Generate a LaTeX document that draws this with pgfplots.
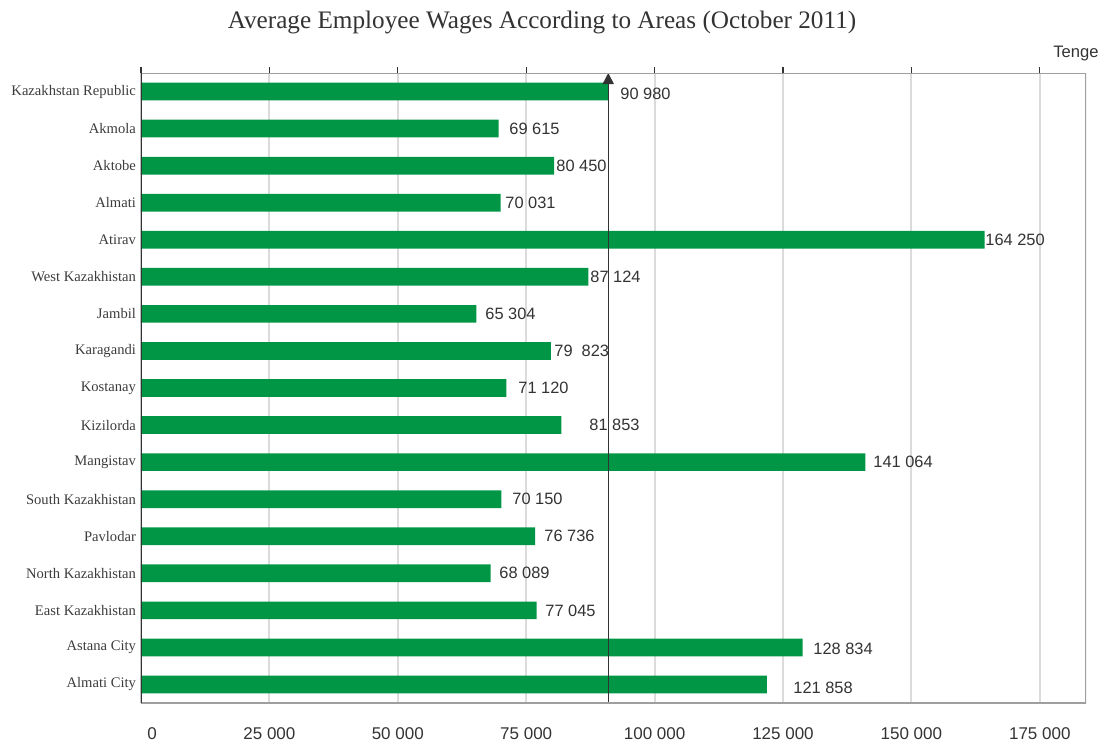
\documentclass[border=0pt]{standalone}
\usepackage{pgfplots}
\pgfplotsset{compat=1.18}
\usepackage{pgfplotstable}
\usepackage{fontspec}
\setmainfont{Liberation Serif}
\newfontfamily\arial{Liberation Sans}
\usetikzlibrary{arrows.meta}
\definecolor{bargreen}{RGB}{0,150,70}
\definecolor{txt}{RGB}{51,51,51}
\definecolor{cat}{RGB}{60,60,60}

\pgfplotstableread[col sep=comma]{
i,val
0,90980
1,69615
2,80450
3,70031
4,164250
5,87124
6,65304
7,79823
8,71120
9,81853
10,141064
11,70150
12,76736
13,68089
14,77045
15,128834
16,121858
}\wages

\pgfplotstableread[col sep=comma]{
lx,ly,lab
93266,0.05,90 980
71653,1,69 615
80805,2,80 450
70874,3,70 031
164335,4,164 250
87425,5,87 124
66980,6,65 304
80415,7,79\ \ 823
73406,8,71 120
87230,9,81 853
142528,10,141 064
72237,11,70 150
78468,12,76 736
69706,13,68 089
78663,14,77 045
130845,15.05,128 834
126951,16.1,121 858
}\labels

\begin{document}
\begin{tikzpicture}
\begin{axis}[
  at={(0,0)}, anchor=south west,
  scale only axis, width=472.5pt, height=315pt,
  xmin=0, xmax=184000, ymin=-0.5, ymax=16.5, y dir=reverse,
  ytick={0,...,16},
  yticklabels={Kazakhstan Republic, Akmola, Aktobe, Almati, Atirav, West Kazakhistan, Jambil, Karagandi, Kostanay, Kizilorda, Mangistav, South Kazakhistan, Pavlodar, North Kazakhistan, East Kazakhistan, Astana City, Almati City},
  xtick={0,25000,50000,75000,100000,125000,150000,175000},
  xticklabels={\hspace*{11pt}0, 25 000, 50 000, 75 000, 100 000, 125 000, 150 000, 175 000},
  xtick pos=right, xticklabel pos=left,
  ytick style={draw=none},
  tick align=outside, major tick length=3pt,
  x tick style={color=txt, line width=0.6pt},
  xmajorgrids, grid style={color=gray!28, line width=1pt},
  axis line style={draw=none},
  xticklabel style={font=\arial\fontsize{8.5}{10}\selectfont, text=txt, anchor=center, yshift=-12.3pt},
  yticklabel style={font=\fontsize{7.3}{9}\selectfont, text=cat, xshift=4pt},
]
\addplot[xbar, bar width=8.85pt, bar shift=0pt, fill=bargreen, draw=none] table[x=val,y=i]{\wages};
\addplot[draw=none, mark=none, nodes near coords, point meta=explicit symbolic,
  every node near coord/.append style={anchor=west, inner sep=0pt, font=\arial\fontsize{8.2}{10}\selectfont, text=txt}]
  table[x=lx,y=ly,meta=lab]{\labels};
\addplot[txt, line width=0.75pt, -{Triangle[length=5.5pt,width=5.5pt]}] coordinates {(90980,16.5) (90980,-0.5)};
\draw[gray!75, line width=1pt] (axis description cs:0,1) -- (axis description cs:1,1) -- (axis description cs:1,0) -- (axis description cs:0,0);
\draw[txt, line width=0.7pt] (axis description cs:0,0) -- (axis description cs:0,1) -- ++(0,2pt);
\end{axis}
\node[font=\fontsize{12.6}{15}\selectfont, text=txt] at (200.5pt,340.5pt) {Average Employee Wages According to Areas (October 2011)};
\node[font=\arial\fontsize{8.3}{10}\selectfont, text=txt] at (467.5pt,324.5pt) {Tenge};
\pgfresetboundingbox
\path[use as bounding box] (-70.5pt,-20.5pt) rectangle (482.5pt,351.5pt);
\end{tikzpicture}
\end{document}
